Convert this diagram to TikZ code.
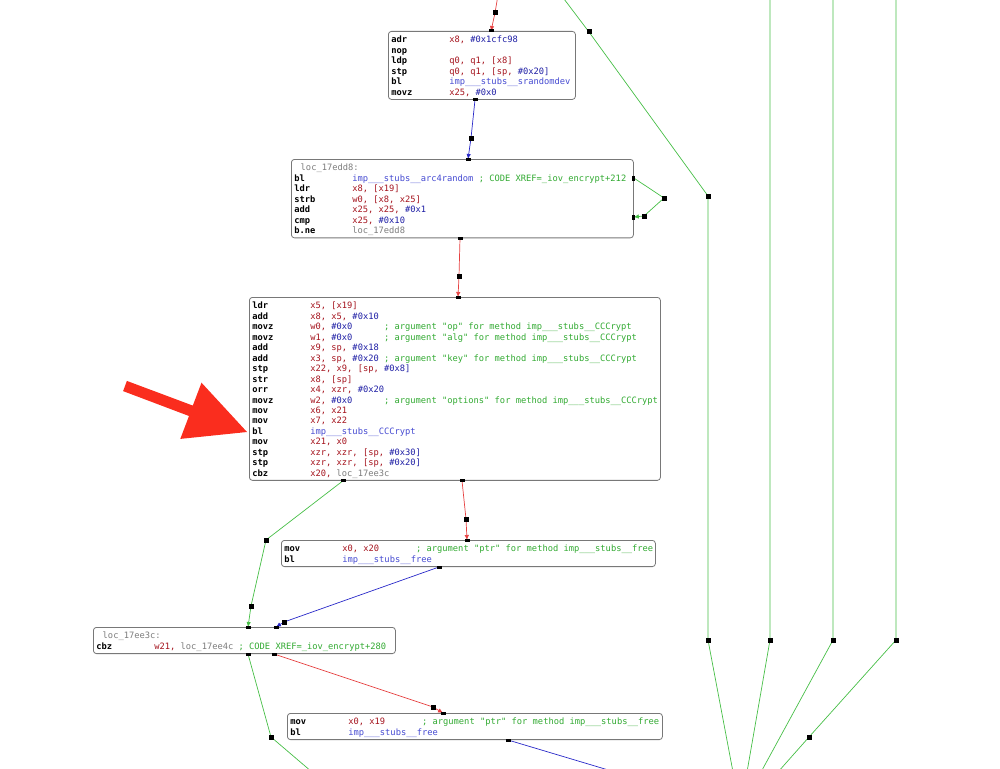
\documentclass[tikz,border=0pt]{standalone}
\usepackage{fontspec}
\setmonofont{DejaVu Sans Mono}
\usetikzlibrary{arrows.meta}

\definecolor{regc}{RGB}{165,20,30}
\definecolor{numc}{RGB}{30,30,165}
\definecolor{funcc}{RGB}{70,75,210}
\definecolor{cmtc}{RGB}{50,170,50}
\definecolor{lblc}{RGB}{125,125,125}
\definecolor{boxgray}{RGB}{120,120,120}
\definecolor{edgered}{RGB}{230,65,65}
\definecolor{edgegreen}{RGB}{70,190,70}
\definecolor{edgeblue}{RGB}{40,40,200}
\definecolor{bigred}{RGB}{250,45,30}

\newlength\cw
\newcommand\asmfont{\ttfamily\fontsize{8.75pt}{10.45pt}\selectfont\frenchspacing\lineskiplimit=-100pt\relax}
\newcommand\lnstrut{\rule[-3.1pt]{0pt}{13.55pt}}
% one listing line: fixed mnemonic column, full-width spaces
\newcommand\insn[2]{\mbox{\spaceskip=\cw\xspaceskip=\cw\lnstrut\makebox[11\cw][l]{\bfseries #1}#2}}
\newcommand\hdr[1]{\mbox{\lnstrut\hspace*{1.2\cw}\textcolor{lblc}{#1}}}
\newcommand\regt[1]{\textcolor{regc}{#1}}
\newcommand\numt[1]{\textcolor{numc}{#1}}
\newcommand\funct[1]{\textcolor{funcc}{#1}}
\newcommand\cmtt[1]{\textcolor{cmtc}{#1}}
\newcommand\lblt[1]{\textcolor{lblc}{#1}}
\newcommand\padt[1]{\makebox[14\cw][l]{#1}}
\newcommand\cccrypt{imp\_\_\_stubs\_\_CCCrypt}
\newcommand\freefn{imp\_\_\_stubs\_\_free}

\begin{document}
\settowidth{\cw}{\asmfont x}
\begin{tikzpicture}[x=1pt,y=-1pt,
  block/.style={draw=boxgray,fill=white,rounded corners=3pt,line width=0.8pt,
    anchor=north west,inner xsep=3pt,inner ysep=1.1pt,align=left,font=\asmfont},
  rededge/.style={draw=edgered,line width=0.7pt},
  greenedge/.style={draw=edgegreen,line width=0.7pt},
  blueedge/.style={draw=edgeblue,line width=0.7pt},
  tip/.style={-{Latex[length=5pt,width=4.5pt]}}]

\useasboundingbox (0,0) rectangle (1000,768);
\clip (0,0) rectangle (1000,768);

% basic blocks
\node[block,text width=181pt] (b1) at (388,31) {%
\insn{adr}{\regt{x8, }\numt{\#0x1cfc98}}\\
\insn{nop}{}\\
\insn{ldp}{\regt{q0, q1, [x8]}}\\
\insn{stp}{\regt{q0, q1, [sp, }\numt{\#0x20]}}\\
\insn{bl}{\funct{imp\_\_\_stubs\_\_srandomdev}}\\
\insn{movz}{\regt{x25, }\numt{\#0x0}}};

\node[block,text width=336pt] (b2) at (291,159) {%
\hdr{loc\_17edd8:}\\
\insn{bl}{\funct{imp\_\_\_stubs\_\_arc4random} \cmtt{; CODE XREF=\_iov\_encrypt+212}}\\
\insn{ldr}{\regt{x8, [x19]}}\\
\insn{strb}{\regt{w0, [x8, x25]}}\\
\insn{add}{\regt{x25, x25, }\numt{\#0x1}}\\
\insn{cmp}{\regt{x25, }\numt{\#0x10}}\\
\insn{b.ne}{\lblt{loc\_17edd8}}};

\node[block,text width=405pt] (b3) at (249,297) {%
\insn{ldr}{\regt{x5, [x19]}}\\
\insn{add}{\regt{x8, x5, }\numt{\#0x10}}\\
\insn{movz}{\padt{\regt{w0, }\numt{\#0x0}}\cmtt{; argument "op" for method \cccrypt}}\\
\insn{movz}{\padt{\regt{w1, }\numt{\#0x0}}\cmtt{; argument "alg" for method \cccrypt}}\\
\insn{add}{\regt{x9, sp, }\numt{\#0x18}}\\
\insn{add}{\padt{\regt{x3, sp, }\numt{\#0x20}}\cmtt{; argument "key" for method \cccrypt}}\\
\insn{stp}{\regt{x22, x9, [sp, }\numt{\#0x8]}}\\
\insn{str}{\regt{x8, [sp]}}\\
\insn{orr}{\regt{x4, xzr, }\numt{\#0x20}}\\
\insn{movz}{\padt{\regt{w2, }\numt{\#0x0}}\cmtt{; argument "options" for method \cccrypt}}\\
\insn{mov}{\regt{x6, x21}}\\
\insn{mov}{\regt{x7, x22}}\\
\insn{bl}{\funct{\cccrypt}}\\
\insn{mov}{\regt{x21, x0}}\\
\insn{stp}{\regt{xzr, xzr, [sp, }\numt{\#0x30]}}\\
\insn{stp}{\regt{xzr, xzr, [sp, }\numt{\#0x20]}}\\
\insn{cbz}{\regt{x20, }\lblt{loc\_17ee3c}}};

\node[block,text width=368pt] (b4) at (281,540) {%
\insn{mov}{\padt{\regt{x0, x20}}\cmtt{; argument "ptr" for method \freefn}}\\
\insn{bl}{\funct{\freefn}}};

\node[block,text width=296pt] (b5) at (93,627) {%
\hdr{loc\_17ee3c:}\\
\insn{cbz}{\regt{w21, }\lblt{loc\_17ee4c} \cmtt{; CODE XREF=\_iov\_encrypt+280}}};

\node[block,text width=369pt] (b6) at (287,713) {%
\insn{mov}{\padt{\regt{x0, x19}}\cmtt{; argument "ptr" for method \freefn}}\\
\insn{bl}{\funct{\freefn}}};

% ports on the blocks
\coordinate (p1) at (b1.north -| 491,0);
\coordinate (p2) at (b1.south -| 475,0);
\coordinate (p3) at (b2.north -| 468,0);
\coordinate (p4) at (b2.east |- 0,178);
\coordinate (p5) at (b2.east |- 0,217);
\coordinate (p6) at (b2.south -| 460,0);
\coordinate (p7) at (b3.north -| 458,0);
\coordinate (p8) at (b3.south -| 343,0);
\coordinate (p9) at (b3.south -| 462,0);
\coordinate (p10) at (b4.north -| 467,0);
\coordinate (p11) at (b4.south -| 439,0);
\coordinate (p12) at (b5.north -| 248,0);
\coordinate (p13) at (b5.north -| 276,0);
\coordinate (p14) at (b5.south -| 248,0);
\coordinate (p15) at (b5.south -| 274,0);
\coordinate (p16) at (b6.north -| 443,0);
\coordinate (p17) at (b6.south -| 508,0);

% bends
\coordinate (k1) at (495,13);
\coordinate (k2) at (471,138);
\coordinate (k3) at (664,198);
\coordinate (k4) at (644,216);
\coordinate (k5) at (459,276);
\coordinate (k6) at (266,540);
\coordinate (k7) at (251,606);
\coordinate (k8) at (466,519);
\coordinate (k9) at (284,622);
\coordinate (k10) at (271,737);
\coordinate (k11) at (433,707);
\coordinate (k12) at (589,32);
\coordinate (k13) at (708,196);
\coordinate (k14) at (708,640);
\coordinate (k15) at (770,640);
\coordinate (k16) at (833,640);
\coordinate (k17) at (896,640);
\coordinate (k18) at (809,737);

% free ends outside the view
\coordinate (in1) at (498,-5);
\coordinate (in2) at (561,-5);
\coordinate (in3) at (770,-5);
\coordinate (in4) at (833,-5);
\coordinate (in5) at (896,-5);
\coordinate (out1) at (312,772);
\coordinate (out2) at (615,772);
\coordinate (out3) at (733,772);
\coordinate (out4) at (747,772);
\coordinate (out5) at (761,772);
\coordinate (out6) at (778,772);

% connectors
\draw[rededge,tip] (in1) -- (k1) -- (p1);
\draw[blueedge,tip] (p2) -- (k2) -- (p3);
\draw[greenedge,tip] (p4) -- (k3) -- (k4) -- (p5);
\draw[rededge,tip] (p6) -- (k5) -- (p7);
\draw[greenedge,tip] (p8) -- (k6) -- (k7) -- (p12);
\draw[rededge,tip] (p9) -- (k8) -- (p10);
\draw[blueedge,tip] (p11) -- (k9) -- (p13);
\draw[greenedge] (p14) -- (k10) -- (out1);
\draw[rededge,tip] (p15) -- (k11) -- (p16);
\draw[blueedge] (p17) -- (out2);

\draw[greenedge] (in2) -- (k12) -- (k13) -- (k14) -- (out3);
\draw[greenedge] (in3) -- (k15) -- (out4);
\draw[greenedge] (in4) -- (k16) -- (out5);
\draw[greenedge] (in5) -- (k17) -- (k18) -- (out6);

% knots and ports
\foreach \k in {k1,k2,k3,k4,k5,k6,k7,k8,k9,k10,k11,k12,k13,k14,k15,k16,k17,k18}
  \fill (\k) +(-2.5,-2.5) rectangle +(2.5,2.5);
\foreach \p in {p1,p2,p3,p6,p7,p8,p9,p10,p11,p12,p13,p14,p15,p16,p17}
  \fill (\p) +(-2.5,-1.5) rectangle +(2.5,1.5);
\foreach \p in {p4,p5}
  \fill (\p) +(-1.5,-2.5) rectangle +(1.5,2.5);

% pointer
\fill[bigred] (126.9,380.9) -- (192.8,405.6) -- (201.5,382.7) -- (247,432)
  -- (180.3,438.9) -- (189,416) -- (123.1,391.1) -- cycle;

\end{tikzpicture}
\end{document}
